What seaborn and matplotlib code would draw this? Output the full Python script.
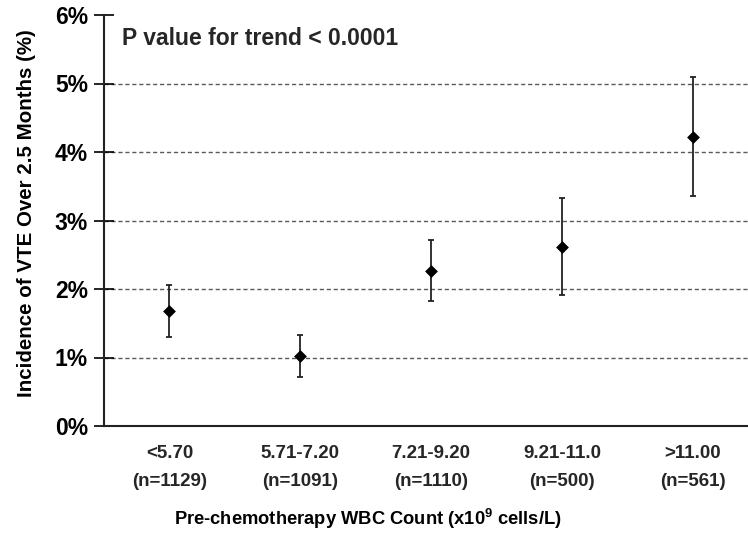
import numpy as np
import pandas as pd
import matplotlib
matplotlib.use("Agg")
import matplotlib.pyplot as plt
import seaborn as sns

categories = ["<5.70", "5.71-7.20", "7.21-9.20", "9.21-11.0", ">11.00"]
counts = ["n=1129", "n=1091", "n=1110", "n=500", "n=561"]
incidence = [1.68, 1.02, 2.26, 2.62, 4.22]
ci_low = [1.30, 0.72, 1.82, 1.91, 3.36]
ci_high = [2.06, 1.33, 2.71, 3.33, 5.10]
y_ticks = [0, 1, 2, 3, 4, 5, 6]

sns.set_theme(style="white")
plt.rcParams["font.family"] = ["Liberation Sans", "DejaVu Sans"]
plt.rcParams["font.weight"] = "bold"
plt.rcParams["mathtext.fontset"] = "custom"
plt.rcParams["mathtext.rm"] = "Liberation Sans:bold"
plt.rcParams["mathtext.default"] = "rm"

df = pd.DataFrame({"pos": np.arange(len(categories)), "inc": incidence,
                   "lo": ci_low, "hi": ci_high})

fig = plt.figure(figsize=(7.48, 5.42), dpi=100)
ax = fig.add_axes([104 / 748, 116 / 542, 644 / 748, 411 / 542])

# grid lines
for yv in y_ticks[1:-1]:
    ax.axhline(yv, color="#5a5a5a", lw=1.0, ls=(0, (3, 2)), zorder=0)

yerr = np.array([df["inc"] - df["lo"], df["hi"] - df["inc"]])
ax.errorbar(df["pos"], df["inc"], yerr=yerr, fmt="none", ecolor="#222222",
            elinewidth=1.3, capsize=2.3, capthick=1.3, zorder=2)
sns.scatterplot(data=df, x="pos", y="inc", marker="D", s=36, color="black",
                edgecolor="black", linewidth=0.5, ax=ax, zorder=3, legend=False)

ax.set_xlim(-0.5, 4.42)
ax.set_ylim(0, 6)
ax.set_yticks(y_ticks)
ax.set_yticklabels([f"{v}%" for v in y_ticks], fontsize=16.5, fontweight="bold")
ax.set_xticks(np.arange(len(categories)))
ax.set_xticklabels([f"{c}\n({n})" for c, n in zip(categories, counts)],
                   fontsize=13.5, fontweight="bold", linespacing=1.85)
ax.tick_params(axis="x", length=0, pad=14)
ax.tick_params(axis="y", direction="inout", length=14, width=1.2, pad=4.5,
               left=True, colors="black", labelcolor="black")

for side in ["top", "right"]:
    ax.spines[side].set_visible(False)
for side in ["left", "bottom"]:
    ax.spines[side].set_visible(True)
    ax.spines[side].set_color("#222222")
    ax.spines[side].set_linewidth(1.5)

ax.set_ylabel("Incidence of VTE Over 2.5 Months (%)", fontsize=14.8,
              fontweight="bold", color="black")
ax.yaxis.set_label_coords(-0.106, 0.518)
ax.set_xlabel(r"Pre-chemotherapy WBC Count (x10$^9$ cells/L)", fontsize=13.2,
              fontweight="bold", color="black")
ax.xaxis.set_label_coords(0.41, -0.198)

ax.text(0.028, 0.942, "P value for trend < 0.0001", transform=ax.transAxes,
        fontsize=16.5, fontweight="bold", va="center", ha="left")

fig.savefig("out.png", dpi=100)
